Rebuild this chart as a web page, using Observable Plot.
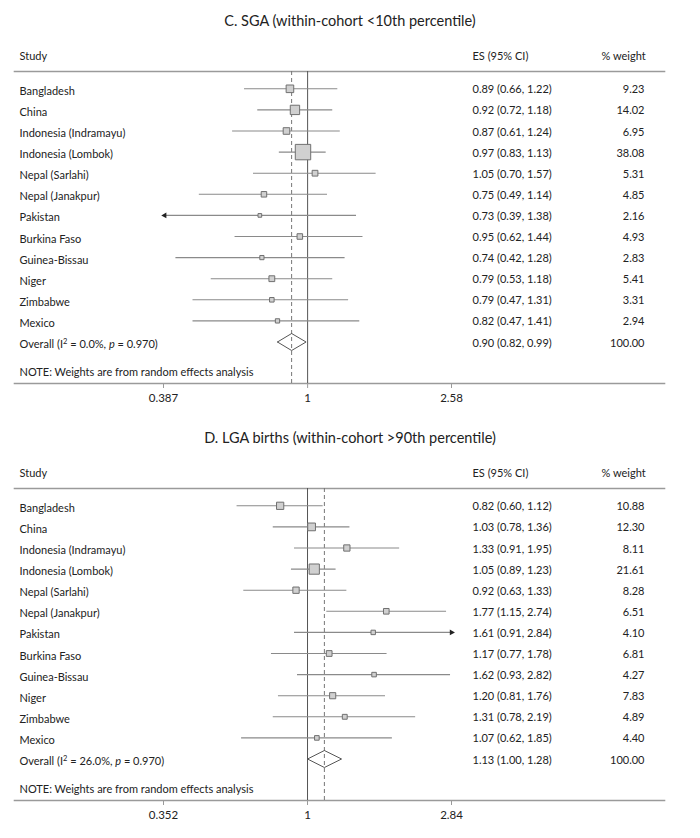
<!DOCTYPE html>
<html>
<head>
<meta charset="utf-8">
<script src="https://cdn.jsdelivr.net/npm/d3@7"></script>
<script src="https://cdn.jsdelivr.net/npm/@observablehq/plot@0.6"></script>
<style>
  body { margin: 0; background: #fff; font-family: Lato, "Noto Sans", sans-serif; }
  .title { width: 700px; height: 42px; line-height: 42px; text-align: center; font-size: 14.5px; color: #222; }
  svg { display: block; }
</style>
</head>
<body>
<div id="chart"></div>
<script>
// ---- data ----
const studies = ["Bangladesh", "China", "Indonesia (Indramayu)", "Indonesia (Lombok)", "Nepal (Sarlahi)", "Nepal (Janakpur)", "Pakistan", "Burkina Faso", "Guinea-Bissau", "Niger", "Zimbabwe", "Mexico"];

const sgaTitle = "C. SGA (within-cohort <10th percentile)";
const sgaEs = [0.89, 0.92, 0.87, 0.97, 1.05, 0.75, 0.73, 0.95, 0.74, 0.79, 0.79, 0.82];
const sgaLo = [0.66, 0.72, 0.61, 0.83, 0.70, 0.49, 0.39, 0.62, 0.42, 0.53, 0.47, 0.47];
const sgaHi = [1.22, 1.18, 1.24, 1.13, 1.57, 1.14, 1.38, 1.44, 1.28, 1.18, 1.31, 1.41];
const sgaWeight = [9.23, 14.02, 6.95, 38.08, 5.31, 4.85, 2.16, 4.93, 2.83, 5.41, 3.31, 2.94];
const sgaOverall = [0.90, 0.82, 0.99, 100.00]; // es, lo, hi, weight
const sgaI2 = "0.0%";
const sgaP = "0.970";
const sgaTicks = [0.387, 1, 2.58];
const sgaArrowLeft = ["Pakistan"];
const sgaArrowRight = [];

const lgaTitle = "D. LGA births (within-cohort >90th percentile)";
const lgaEs = [0.82, 1.03, 1.33, 1.05, 0.92, 1.77, 1.61, 1.17, 1.62, 1.20, 1.31, 1.07];
const lgaLo = [0.60, 0.78, 0.91, 0.89, 0.63, 1.15, 0.91, 0.77, 0.93, 0.81, 0.78, 0.62];
const lgaHi = [1.12, 1.36, 1.95, 1.23, 1.33, 2.74, 2.84, 1.78, 2.82, 1.76, 2.19, 1.85];
const lgaWeight = [10.88, 12.30, 8.11, 21.61, 8.28, 6.51, 4.10, 6.81, 4.27, 7.83, 4.89, 4.40];
const lgaOverall = [1.13, 1.00, 1.28, 100.00];
const lgaI2 = "26.0%";
const lgaP = "0.970";
const lgaTicks = [0.352, 1, 2.84];
const lgaArrowLeft = [];
const lgaArrowRight = ["Pakistan"];

const headers = ["Study", "ES (95% CI)", "% weight"];
const note = "NOTE: Weights are from random effects analysis";

// ---- drawing ----
const f2 = d3.format(".2f");
const ink = "#222";

function panel({title, es, lo, hi, weight, overall, i2, p, ticks, arrowLeft, arrowRight, rMax}) {
  const n = studies.length;
  const rows = studies.map((s, i) => ({study: s, i, es: es[i], lo: lo[i], hi: hi[i], w: weight[i]}));
  const [oEs, oLo, oHi, oW] = overall;
  const textRows = rows.map(d => ({label: d.study, i: d.i, ci: `${f2(d.es)} (${f2(d.lo)}, ${f2(d.hi)})`, w: f2(d.w)}))
    .concat([{label: `Overall (I2 = ${i2}, p = ${p})`, i: n, ci: `${f2(oEs)} (${f2(oLo)}, ${f2(oHi)})`, w: f2(oW)}]);
  const h = 8.5 / 21.1;
  const diamond = [
    {x: oLo, y: n}, {x: oEs, y: n - h}, {x: oHi, y: n}, {x: oEs, y: n + h}, {x: oLo, y: n}
  ];
  const arrowsL = rows.filter(d => arrowLeft.includes(d.study));
  const arrowsR = rows.filter(d => arrowRight.includes(d.study));

  const wrap = document.createElement("div");
  const t = document.createElement("div");
  t.className = "title";
  t.textContent = title;
  wrap.appendChild(t);

  const svg = Plot.plot({
    width: 700,
    height: 375,
    marginTop: 29,
    marginBottom: 34,
    marginLeft: 14,
    marginRight: 36,
    style: {fontFamily: "Lato, 'Noto Sans', sans-serif", fontSize: "11px", color: ink, background: "#fff"},
    x: {type: "log", domain: [ticks[0], ticks[2]], range: [163, 451]},
    y: {type: "linear", domain: [0, n], range: [46.3, 299.5], axis: null},
    r: {type: "sqrt", domain: [0, 100], range: [0, rMax]},
    marks: [
      Plot.frame({anchor: "top", stroke: "#9a9a9a", strokeWidth: 1.6}),
      Plot.frame({anchor: "bottom", stroke: "#9a9a9a", strokeWidth: 1.6}),
      Plot.axisX({ticks, tickFormat: d => String(d), tickSize: 5, tickPadding: 5, stroke: "#9a9a9a", fill: ink, fontSize: 11.5, label: null}),
      Plot.ruleX([1], {stroke: "#555", strokeWidth: 1}),
      Plot.ruleX([oEs], {stroke: "#777", strokeWidth: 1, strokeDasharray: "4,3"}),
      Plot.ruleY(rows, {y: "i", x1: "lo", x2: "hi", stroke: "#8a8a8a", strokeWidth: 1.1}),
      Plot.dot(arrowsL, {x: "lo", y: "i", symbol: "triangle", rotate: -90, r: 2.2, fill: "#222", stroke: "none"}),
      Plot.dot(arrowsR, {x: "hi", y: "i", symbol: "triangle", rotate: 90, r: 2.2, fill: "#222", stroke: "none"}),
      Plot.dot(rows, {x: "es", y: "i", r: "w", symbol: "square", fill: "#d0d0d0", stroke: "#707070", strokeWidth: 1}),
      Plot.line(diamond, {x: "x", y: "y", stroke: "#555", strokeWidth: 1, fill: "none"}),
      Plot.text(headers.slice(0, 1), {frameAnchor: "top-left", dx: 5, dy: -15, lineAnchor: "middle", fill: ink}),
      Plot.text(headers.slice(1, 2), {frameAnchor: "top-left", dx: 458, dy: -15, lineAnchor: "middle", fill: ink}),
      Plot.text(headers.slice(2, 3), {frameAnchor: "top-right", dx: -63, dy: -15, textAnchor: "start", lineAnchor: "middle", fill: ink}),
      Plot.text(textRows, {y: "i", text: "label", frameAnchor: "left", dx: 5, dy: 2.5, fill: ink}),
      Plot.text(textRows, {y: "i", text: "ci", frameAnchor: "left", dx: 458, dy: 1, fill: ink}),
      Plot.text(textRows, {y: "i", text: "w", frameAnchor: "right", dx: -20, dy: 1, textAnchor: "end", fill: ink}),
      Plot.text([note], {frameAnchor: "bottom-left", dx: 5, dy: -11, lineAnchor: "middle", fill: ink})
    ]
  });

  // Rich text for the Overall label: superscript 2 and italic p
  d3.select(svg).selectAll("text").filter(function() { return this.textContent.startsWith("Overall (I2"); })
    .each(function() {
      const el = d3.select(this);
      el.text("");
      el.append("tspan").text("Overall (I");
      el.append("tspan").attr("dy", "-4").attr("font-size", "7.5px").text("2");
      el.append("tspan").attr("dy", "4").text(` = ${i2}, `);
      el.append("tspan").attr("font-style", "italic").text("p");
      el.append("tspan").text(` = ${p})`);
    });

  wrap.appendChild(svg);
  return wrap;
}

const chart = document.getElementById("chart");
chart.appendChild(panel({title: sgaTitle, es: sgaEs, lo: sgaLo, hi: sgaHi, weight: sgaWeight, overall: sgaOverall, i2: sgaI2, p: sgaP, ticks: sgaTicks, arrowLeft: sgaArrowLeft, arrowRight: sgaArrowRight, rMax: 14.1}));
chart.appendChild(panel({title: lgaTitle, es: lgaEs, lo: lgaLo, hi: lgaHi, weight: lgaWeight, overall: lgaOverall, i2: lgaI2, p: lgaP, ticks: lgaTicks, arrowLeft: lgaArrowLeft, arrowRight: lgaArrowRight, rMax: 12.4}));
</script>
</body>
</html>
